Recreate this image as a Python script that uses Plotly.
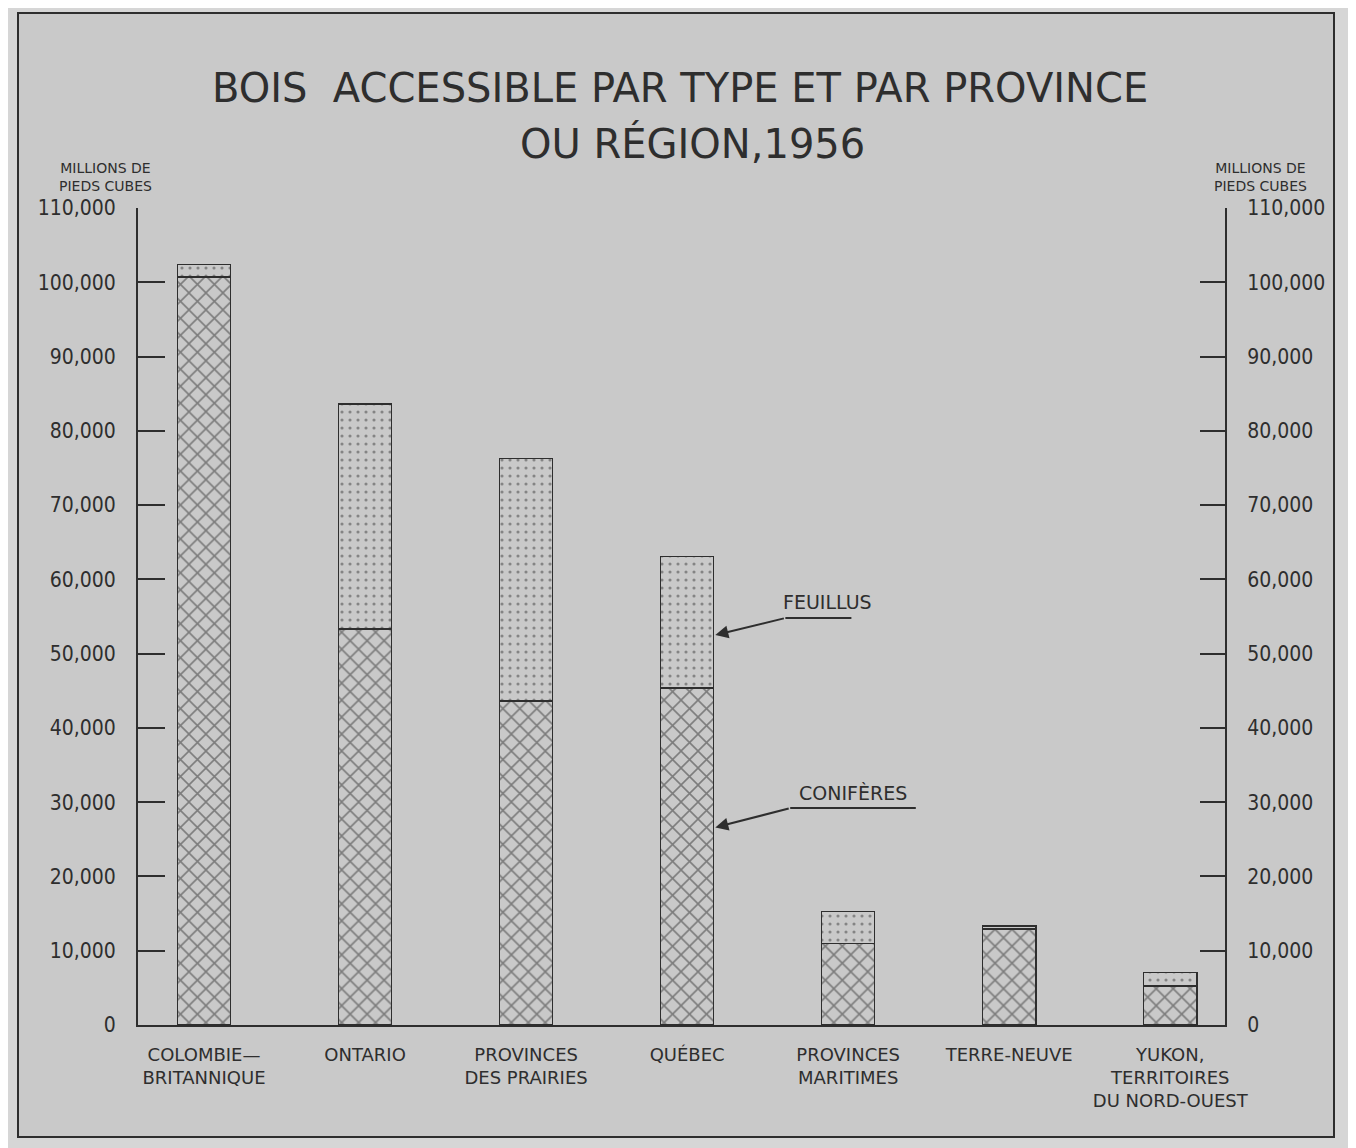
import plotly.graph_objects as go

# ---- data (millions de pieds cubes) ----
regions = [
    "COLOMBIE—<br>BRITANNIQUE",
    "ONTARIO",
    "PROVINCES<br>DES PRAIRIES",
    "QUÉBEC",
    "PROVINCES<br>MARITIMES",
    "TERRE-NEUVE",
    "YUKON,<br>TERRITOIRES<br>DU NORD-OUEST",
]
coniferes = [100700, 53300, 43600, 45400, 11000, 12900, 5250]
feuillus = [1700, 30300, 32700, 17700, 4300, 400, 1850]
ytick_vals = [0, 10000, 20000, 30000, 40000, 50000, 60000, 70000, 80000, 90000, 100000, 110000]
ytick_text = ["0", "10,000", "20,000", "30,000", "40,000", "50,000", "60,000",
              "70,000", "80,000", "90,000", "100,000", "110,000"]

INK = "#2e2e2e"
BG_IN = "#c9c9c9"
BG_OUT = "#d6d6d6"
NARROW = "Liberation Sans Narrow, DejaVu Sans Condensed, DejaVu Sans, sans-serif"
WIDE = "DejaVu Sans, sans-serif"

# plot-area geometry (in figure pixels; page adds an 8px body margin)
PL, PT, PW, PH = 130, 200, 1087, 817

def px(sx):  # screen x -> paper x
    return (sx - 138) / PW

def py(sy):  # screen y -> paper y
    return (1025 - sy) / PH

x = list(range(len(regions)))

fig = go.Figure()
fig.add_trace(go.Bar(
    x=x, y=coniferes, width=0.33, name="CONIFÈRES",
    marker=dict(color=BG_IN, line=dict(color=INK, width=1.5),
                pattern=dict(shape="x", fgcolor="#303030", bgcolor=BG_IN, size=12, solidity=0.25)),
    hoverinfo="skip",
))
fig.add_trace(go.Bar(
    x=x, y=feuillus, width=0.33, name="FEUILLUS",
    marker=dict(color=BG_IN, line=dict(color=INK, width=1.5),
                pattern=dict(shape=".", fgcolor="#404040", bgcolor=BG_IN, size=8, solidity=0.12)),
    hoverinfo="skip",
))
# invisible trace to carry the right-hand axis
fig.add_trace(go.Scatter(x=[0], y=[0], yaxis="y2", mode="markers",
                         marker=dict(opacity=0), showlegend=False, hoverinfo="skip"))

fig.update_layout(
    width=1348, height=1140,
    barmode="stack",
    showlegend=False,
    paper_bgcolor=BG_OUT,
    plot_bgcolor="rgba(0,0,0,0)",
    margin=dict(l=PL, r=1348 - PL - PW, t=PT, b=1140 - PT - PH, pad=0),
    font=dict(family=NARROW, color=INK),
    xaxis=dict(
        range=[-0.41, 6.34], tickmode="array", tickvals=x, ticktext=regions,
        showline=True, linecolor=INK, linewidth=2, ticks="", showgrid=False,
        zeroline=False, tickfont=dict(size=18, family=WIDE, color=INK),
        ticklabelstandoff=12,
    ),
    yaxis=dict(
        range=[0, 110000], tickmode="array", tickvals=ytick_vals, ticktext=ytick_text,
        showline=True, linecolor=INK, linewidth=2, ticks="inside", ticklen=27,
        tickwidth=2, tickcolor=INK, showgrid=False, zeroline=False,
        tickfont=dict(size=21, color=INK), ticklabelstandoff=16,
    ),
    yaxis2=dict(
        range=[0, 110000], overlaying="y", side="right", tickmode="array",
        tickvals=ytick_vals, ticktext=ytick_text,
        showline=True, linecolor=INK, linewidth=2, ticks="inside", ticklen=25,
        tickwidth=2, tickcolor=INK, showgrid=False, zeroline=False,
        tickfont=dict(size=21, color=INK), ticklabelstandoff=16,
    ),
)

# inner panel + frame
fig.add_shape(type="rect", xref="paper", yref="paper", layer="below",
              x0=px(18), x1=px(1334), y0=py(1137), y1=py(13),
              fillcolor=BG_IN, line=dict(color=INK, width=2))

# title
fig.add_annotation(xref="paper", yref="paper", x=px(680), y=py(88),
                   xanchor="center", yanchor="middle",
                   text="BOIS  ACCESSIBLE PAR TYPE ET PAR PROVINCE", showarrow=False,
                   font=dict(size=40, color=INK, family=WIDE))
fig.add_annotation(xref="paper", yref="paper", x=px(692), y=py(143),
                   xanchor="center", yanchor="middle",
                   text="OU RÉGION,1956", showarrow=False,
                   font=dict(size=40, color=INK, family=WIDE))

# axis unit labels
for cx in (105, 1260):
    fig.add_annotation(xref="paper", yref="paper", x=px(cx), y=py(177),
                       xanchor="center", yanchor="middle",
                       text="MILLIONS DE<br>PIEDS CUBES", showarrow=False, align="center",
                       font=dict(size=14, color=INK, family=WIDE))

# callouts
fig.add_annotation(x=3.87, y=56900, text="FEUILLUS", showarrow=False,
                   font=dict(size=19, color=INK, family=WIDE))
fig.add_shape(type="line", x0=3.61, x1=4.02, y0=54800, y1=54800, line=dict(color=INK, width=2))
fig.add_annotation(x=3.175, y=52500, ax=3.61, ay=54800, axref="x", ayref="y", text="",
                   showarrow=True, arrowhead=2, arrowsize=1.3, arrowwidth=2, arrowcolor=INK)

fig.add_annotation(x=4.03, y=31300, text="CONIFÈRES", showarrow=False,
                   font=dict(size=19, color=INK, family=WIDE))
fig.add_shape(type="line", x0=3.64, x1=4.42, y0=29200, y1=29200, line=dict(color=INK, width=2))
fig.add_annotation(x=3.175, y=26600, ax=3.64, ay=29200, axref="x", ayref="y", text="",
                   showarrow=True, arrowhead=2, arrowsize=1.3, arrowwidth=2, arrowcolor=INK)

fig.write_html("out.html")
